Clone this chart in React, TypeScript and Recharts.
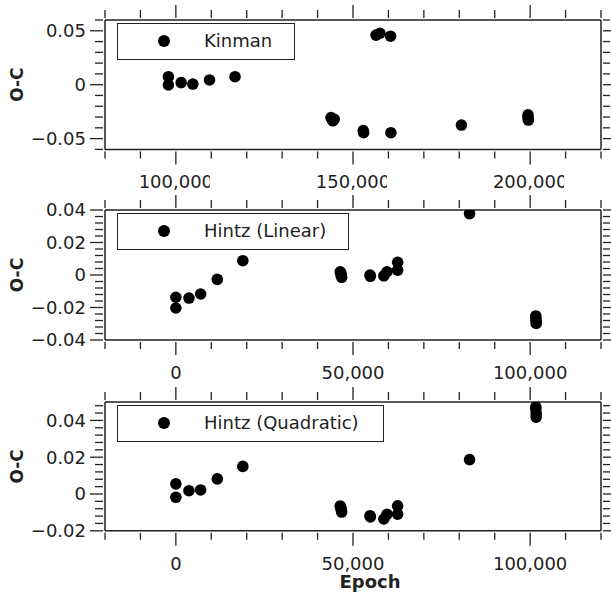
import React from 'react';
import { ScatterChart, Scatter, XAxis, YAxis, Legend } from 'recharts';

// Kinman O-C values
const kinmanEpoch = [97900, 97900, 101500, 104800, 109500, 116700, 143800, 144300, 144700, 152900, 153000, 156500, 157600, 160600, 160700, 180600, 199400, 199400, 199500];
const kinmanOC = [0.0074, -0.0003, 0.0019, 0.0006, 0.0044, 0.0074, -0.0305, -0.0335, -0.032, -0.0425, -0.0445, 0.046, 0.0477, 0.045, -0.0445, -0.0374, -0.028, -0.0305, -0.0328];

// Hintz epochs are shared by both fits
const hintzEpoch = [0, 0, 3700, 7000, 11700, 18900, 46400, 46600, 46700, 46800, 54800, 54900, 58700, 59600, 62600, 62600, 82900, 101600, 101600, 101700, 101700];
const hintzLinearOC = [-0.0137, -0.0203, -0.0142, -0.0117, -0.0027, 0.0088, 0.002, 0.001, -0.0005, -0.0014, 0, -0.0008, -0.0005, 0.002, 0.0078, 0.003, 0.0378, -0.0252, -0.0268, -0.0282, -0.0298];
const hintzQuadOC = [0.0055, -0.0018, 0.0018, 0.0022, 0.0082, 0.015, -0.0065, -0.0075, -0.009, -0.0098, -0.0118, -0.0125, -0.0136, -0.011, -0.0064, -0.011, 0.0187, 0.0473, 0.0462, 0.0438, 0.0418];

// ticks (minor + labelled majors)
const kinmanXTicks = [80000, 90000, 100000, 110000, 120000, 130000, 140000, 150000, 160000, 170000, 180000, 190000, 200000, 210000, 220000];
const kinmanXLabels = [100000, 150000, 200000];
const hintzXTicks = [-20000, -10000, 0, 10000, 20000, 30000, 40000, 50000, 60000, 70000, 80000, 90000, 100000, 110000, 120000];
const hintzXLabels = [0, 50000, 100000];
const kinmanYTicks = [-0.06, -0.05, -0.04, -0.03, -0.02, -0.01, 0, 0.01, 0.02, 0.03, 0.04, 0.05, 0.06];
const kinmanYLabels = [-0.05, 0, 0.05];
const linearYTicks = [-0.04, -0.036, -0.032, -0.028, -0.024, -0.02, -0.016, -0.012, -0.008, -0.004, 0, 0.004, 0.008, 0.012, 0.016, 0.02, 0.024, 0.028, 0.032, 0.036, 0.04];
const linearYLabels = [-0.04, -0.02, 0, 0.02, 0.04];
const quadYTicks = [-0.02, -0.016, -0.012, -0.008, -0.004, 0, 0.004, 0.008, 0.012, 0.016, 0.02, 0.024, 0.028, 0.032, 0.036, 0.04, 0.044, 0.048];
const quadYLabels = [-0.02, 0, 0.02, 0.04];

const FONT = '"DejaVu Sans", Verdana, sans-serif';
const INK = '#222';
const TOP_AXIS = 20;

const isMajor = (v: number, labels: number[]) => labels.some((l) => Math.abs(l - v) < 1e-9);
const fmtX = (v: number) => v.toLocaleString('en-US');
const fmtY = (v: number) => (Math.abs(v) < 1e-12 ? '0' : (v < 0 ? '\u2212' : '') + Math.abs(v).toFixed(2));

const Dot = (props: any) => <circle cx={props.cx} cy={props.cy} r={5.8} fill="#000" />;

const LegendBox = ({ name, width }: { name: string; width: number }) => (
  <div
    style={{
      position: 'relative',
      boxSizing: 'border-box',
      width,
      height: 37,
      border: `1.5px solid ${INK}`,
      background: '#fff',
      fontFamily: FONT,
      fontSize: 18,
      color: INK,
    }}
  >
    <div style={{ position: 'absolute', left: 39.5, top: 11, width: 12, height: 12, borderRadius: '50%', background: '#000' }} />
    <span style={{ position: 'absolute', left: 86, top: 0, lineHeight: '34px', whiteSpace: 'nowrap' }}>{name}</span>
  </div>
);

interface PanelProps {
  id: string;
  top: number;
  height: number;
  plotH: number;
  name: string;
  legendWidth: number;
  epoch: number[];
  oc: number[];
  xDomain: [number, number];
  xTicks: number[];
  xLabels: number[];
  yDomain: [number, number];
  yTicks: number[];
  yLabels: number[];
  labelClip?: number;
  showEpoch?: boolean;
}

const Panel = (p: PanelProps) => {
  const data = p.epoch.map((e, i) => ({ epoch: e, oc: p.oc[i] }));
  const bottomH = p.height - TOP_AXIS - p.plotH;
  const line = { stroke: INK, strokeWidth: 1.5 };

  const bottomTick = (t: any) => {
    const major = isMajor(t.payload.value, p.xLabels);
    const clipId = `${p.id}-clip-${t.payload.value}`;
    return (
      <g>
        <line x1={t.x} x2={t.x} y1={t.y} y2={t.y + (major ? 13 : 7)} stroke={INK} strokeWidth={1.3} />
        {major && p.labelClip && (
          <clipPath id={clipId}>
            <rect x={t.x - 50} y={t.y + 15} width={50 + p.labelClip} height={30} />
          </clipPath>
        )}
        {major && (
          <text
            x={t.x}
            y={t.y + 37}
            textAnchor="middle"
            fontSize={18}
            fontFamily={FONT}
            fill={INK}
            clipPath={p.labelClip ? `url(#${clipId})` : undefined}
          >
            {fmtX(t.payload.value)}
          </text>
        )}
      </g>
    );
  };
  const topTick = (t: any) => {
    const major = isMajor(t.payload.value, p.xLabels);
    return <line x1={t.x} x2={t.x} y1={t.y} y2={t.y - (major ? 13 : 8)} stroke={INK} strokeWidth={1.3} />;
  };
  const leftTick = (t: any) => {
    const major = isMajor(t.payload.value, p.yLabels);
    return (
      <g>
        <line x1={t.x} x2={t.x - (major ? 13 : 8)} y1={t.y} y2={t.y} stroke={INK} strokeWidth={1.3} />
        {major && (
          <text x={t.x - 17} y={t.y} dy="0.36em" textAnchor="end" fontSize={18} fontFamily={FONT} fill={INK}>
            {fmtY(t.payload.value)}
          </text>
        )}
      </g>
    );
  };
  const rightTick = (t: any) => {
    const major = isMajor(t.payload.value, p.yLabels);
    return <line x1={t.x} x2={t.x + (major ? 13 : 7)} y1={t.y} y2={t.y} stroke={INK} strokeWidth={1.3} />;
  };

  const ocLabel = (lp: any) => {
    const vb = lp.viewBox;
    const cy = vb.y + vb.height / 2;
    return (
      <text x={17} y={cy} dy="0.36em" textAnchor="middle" transform={`rotate(-90, 17, ${cy})`} fontSize={17} fontWeight="bold" fontFamily={FONT} fill={INK}>
        O-C
      </text>
    );
  };
  const epochLabel = (lp: any) => {
    const vb = lp.viewBox;
    return (
      <text x={370} y={vb.y + vb.height - 8} textAnchor="middle" fontSize={18} fontWeight="bold" fontFamily={FONT} fill={INK}>
        Epoch
      </text>
    );
  };

  return (
    <div style={{ position: 'absolute', left: 0, top: p.top }}>
      <ScatterChart width={611} height={p.height} margin={{ top: 0, right: 0, bottom: 0, left: 0 }}>
        <XAxis
          xAxisId="b"
          type="number"
          dataKey="epoch"
          orientation="bottom"
          domain={p.xDomain}
          ticks={p.xTicks}
          interval={0}
          height={bottomH}
          allowDataOverflow
          tickSize={0}
          tickLine={false}
          axisLine={line}
          tick={bottomTick}
          label={p.showEpoch ? epochLabel : undefined}
        />
        <XAxis
          xAxisId="t"
          type="number"
          dataKey="epoch"
          orientation="top"
          domain={p.xDomain}
          ticks={p.xTicks}
          interval={0}
          height={TOP_AXIS}
          allowDataOverflow
          tickSize={0}
          tickLine={false}
          axisLine={line}
          tick={topTick}
        />
        <YAxis
          yAxisId="l"
          type="number"
          dataKey="oc"
          orientation="left"
          domain={p.yDomain}
          ticks={p.yTicks}
          interval={0}
          width={105}
          allowDataOverflow
          tickSize={0}
          tickLine={false}
          axisLine={line}
          tick={leftTick}
          label={ocLabel}
        />
        <YAxis
          yAxisId="r"
          type="number"
          dataKey="oc"
          orientation="right"
          domain={p.yDomain}
          ticks={p.yTicks}
          interval={0}
          width={10}
          allowDataOverflow
          tickSize={0}
          tickLine={false}
          axisLine={line}
          tick={rightTick}
        />
        <Legend
          layout="vertical"
          align="center"
          verticalAlign="middle"
          wrapperStyle={{ position: 'absolute', left: 117, top: TOP_AXIS + 3, width: p.legendWidth, height: 37, margin: 0, padding: 0 }}
          content={() => <LegendBox name={p.name} width={p.legendWidth} />}
        />
        <Scatter xAxisId="t" yAxisId="r" data={data} legendType="none" shape={() => <g />} isAnimationActive={false} />
        <Scatter xAxisId="b" yAxisId="l" name={p.name} data={data} fill="#000" shape={Dot} isAnimationActive={false} />
      </ScatterChart>
    </div>
  );
};

export default function App() {
  return (
    <div style={{ position: 'relative', width: 611, height: 596, background: '#fff', overflow: 'hidden' }}>
      <style>{'body{margin:0}'}</style>
      <Panel
        id="kinman"
        top={0}
        height={196}
        plotH={129.4}
        name="Kinman"
        legendWidth={178}
        epoch={kinmanEpoch}
        oc={kinmanOC}
        xDomain={[80000, 220000]}
        xTicks={kinmanXTicks}
        xLabels={kinmanXLabels}
        yDomain={[-0.06, 0.06]}
        yTicks={kinmanYTicks}
        yLabels={kinmanYLabels}
        labelClip={34}
      />
      <Panel
        id="linear"
        top={190}
        height={196}
        plotH={130}
        name="Hintz (Linear)"
        legendWidth={232}
        epoch={hintzEpoch}
        oc={hintzLinearOC}
        xDomain={[-20000, 120000]}
        xTicks={hintzXTicks}
        xLabels={hintzXLabels}
        yDomain={[-0.04, 0.04]}
        yTicks={linearYTicks}
        yLabels={linearYLabels}
      />
      <Panel
        id="quad"
        top={381.7}
        height={214.3}
        plotH={128.8}
        name="Hintz (Quadratic)"
        legendWidth={267}
        epoch={hintzEpoch}
        oc={hintzQuadOC}
        xDomain={[-20000, 120000]}
        xTicks={hintzXTicks}
        xLabels={hintzXLabels}
        yDomain={[-0.02, 0.05]}
        yTicks={quadYTicks}
        yLabels={quadYLabels}
        showEpoch
      />
    </div>
  );
}
